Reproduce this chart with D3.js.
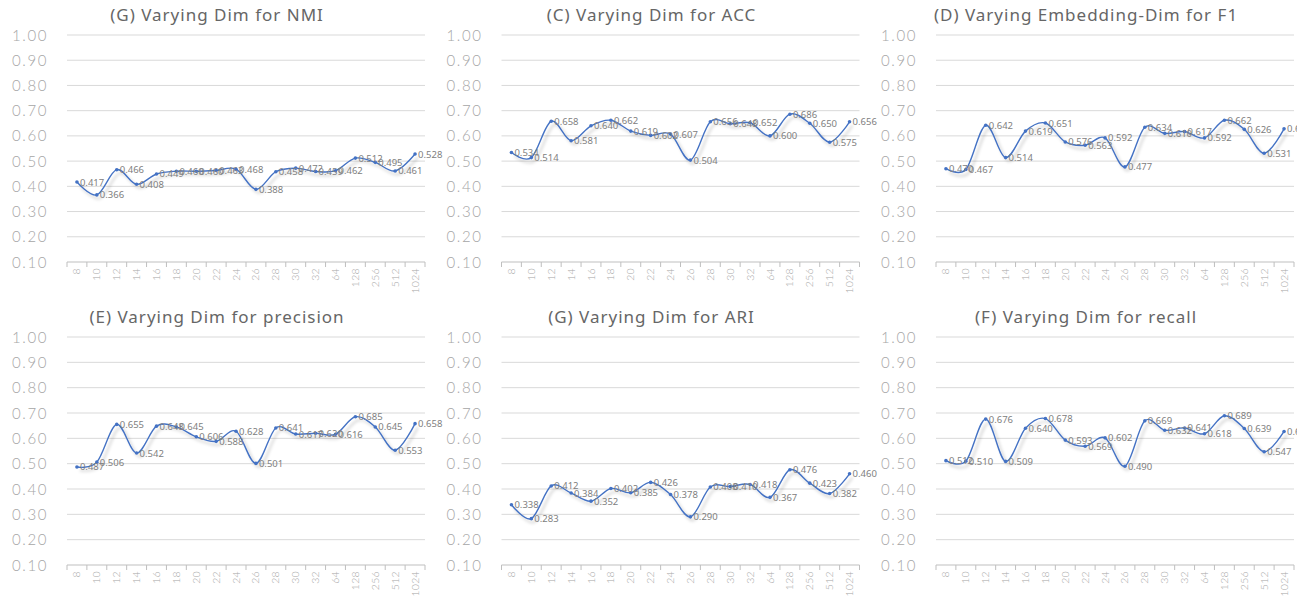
<!DOCTYPE html>
<html lang="en">
<head>
    <meta charset="UTF-8">
    <title>Varying Dim charts</title>
    <script src="https://d3js.org/d3.v7.min.js"></script>
    <style>
        body { margin: 0; background: #fff; }
        .title { font: 17px "Noto Sans", sans-serif; fill: #666; letter-spacing: 1px; }
        .ytick { font: 300 15px "Lato", "Noto Sans", sans-serif; fill: #a6a6a6; letter-spacing: 1.6px; }
        .xtick { font: 300 10.5px "Lato", "Noto Sans", sans-serif; fill: #a6a6a6; letter-spacing: 0.3px; }
        .lbl { font: 9.5px "Noto Sans", sans-serif; fill: #808080; }
        .grid { stroke: #d9d9d9; stroke-width: 1; }
        .axis { stroke: #bfbfbf; stroke-width: 1; }
        .line { fill: none; stroke: #4472c4; stroke-width: 1.4; }
    </style>
</head>
<body>
<script>
// x categories (embedding dimension)
const dims = ["8","10","12","14","16","18","20","22","24","26","28","30","32","64","128","256","512","1024"];
const yTicks = [0.1, 0.2, 0.3, 0.4, 0.5, 0.6, 0.7, 0.8, 0.9, 1.0];

// series values
const nmi       = [0.417,0.366,0.466,0.408,0.449,0.460,0.460,0.463,0.468,0.388,0.458,0.472,0.459,0.462,0.512,0.495,0.461,0.528];
const acc       = [0.534,0.514,0.658,0.581,0.640,0.662,0.619,0.602,0.607,0.504,0.656,0.648,0.652,0.600,0.686,0.650,0.575,0.656];
const f1        = [0.470,0.467,0.642,0.514,0.619,0.651,0.576,0.563,0.592,0.477,0.634,0.610,0.617,0.592,0.662,0.626,0.531,0.628];
const precision = [0.487,0.506,0.655,0.542,0.648,0.645,0.606,0.588,0.628,0.501,0.641,0.617,0.620,0.616,0.685,0.645,0.553,0.658];
const ari       = [0.338,0.283,0.412,0.384,0.352,0.402,0.385,0.426,0.378,0.290,0.408,0.410,0.418,0.367,0.476,0.423,0.382,0.460];
const recall    = [0.512,0.510,0.676,0.509,0.640,0.678,0.593,0.569,0.602,0.490,0.669,0.632,0.641,0.618,0.689,0.639,0.547,0.627];

const titles = [
    "(G) Varying Dim for NMI", "(C) Varying Dim for ACC", "(D) Varying Embedding-Dim for F1",
    "(E) Varying Dim for precision", "(G) Varying Dim for ARI", "(F) Varying Dim for recall"
];
const series = [nmi, acc, f1, precision, ari, recall];

const W = 1297, H = 597;
const svg = d3.select("body").append("svg").attr("width", W).attr("height", H);

// soft shadow under the lines
const defs = svg.append("defs");
const f = defs.append("filter").attr("id", "shadow")
    .attr("x", "-10%").attr("y", "-30%").attr("width", "120%").attr("height", "160%");
f.append("feDropShadow").attr("dx", 3).attr("dy", 3.5).attr("stdDeviation", 1.6)
    .attr("flood-color", "#000").attr("flood-opacity", 0.22);

// panel geometry
const colW = 434.5;
const rows = [{ top: 35, bottom: 262, titleY: 21 }, { top: 337, bottom: 565, titleY: 323 }];

series.forEach((vals, i) => {
    const col = i % 3, row = rows[Math.floor(i / 3)];
    const ox = col * colW;
    const g = svg.append("g");

    const x = d3.scaleBand().domain(dims).range([ox + 67, ox + 425]);
    const y = d3.scaleLinear().domain([0.1, 1.0]).range([row.bottom, row.top]);

    g.append("text").attr("class", "title")
        .attr("x", ox + 217).attr("y", row.titleY)
        .attr("text-anchor", "middle").text(titles[i]);

    // gridlines and y labels
    g.selectAll(".grid").data(yTicks.filter(t => t > 0.1)).join("line")
        .attr("class", "grid")
        .attr("x1", x.range()[0]).attr("x2", x.range()[1])
        .attr("y1", d => y(d)).attr("y2", d => y(d));
    g.selectAll(".ytick").data(yTicks).join("text")
        .attr("class", "ytick")
        .attr("x", ox + 48).attr("y", d => y(d) + 5.5)
        .attr("text-anchor", "end")
        .text(d => d3.format(".2f")(d));

    // x axis line + tick marks at band edges
    g.append("line").attr("class", "axis")
        .attr("x1", x.range()[0]).attr("x2", x.range()[1])
        .attr("y1", row.bottom).attr("y2", row.bottom);
    g.selectAll(".xt").data(dims.concat(["end"])).join("line")
        .attr("class", "axis")
        .attr("x1", (d, j) => x.range()[0] + j * x.step())
        .attr("x2", (d, j) => x.range()[0] + j * x.step())
        .attr("y1", row.bottom).attr("y2", row.bottom + 5);
    g.selectAll(".xtick").data(dims).join("text")
        .attr("class", "xtick")
        .attr("transform", d => `translate(${x(d) + x.bandwidth() / 2 + 3.5},${row.bottom + 6}) rotate(-90)`)
        .attr("text-anchor", "end")
        .text(d => d);

    // smoothed line
    const pts = vals.map((v, j) => [x(dims[j]) + x.bandwidth() / 2, y(v)]);
    const line = d3.line().curve(d3.curveCardinal.tension(0));
    g.append("path").attr("class", "line").attr("d", line(pts))
        .attr("filter", "url(#shadow)");

    g.selectAll(".pt").data(pts).join("circle")
        .attr("cx", d => d[0]).attr("cy", d => d[1]).attr("r", 1.8)
        .attr("fill", "#4472c4");

    g.selectAll(".lbl").data(vals).join("text")
        .attr("class", "lbl")
        .attr("x", (d, j) => pts[j][0] + 3)
        .attr("y", (d, j) => pts[j][1] + 3.5)
        .text(d => d3.format(".3f")(d));
});
</script>
</body>
</html>
